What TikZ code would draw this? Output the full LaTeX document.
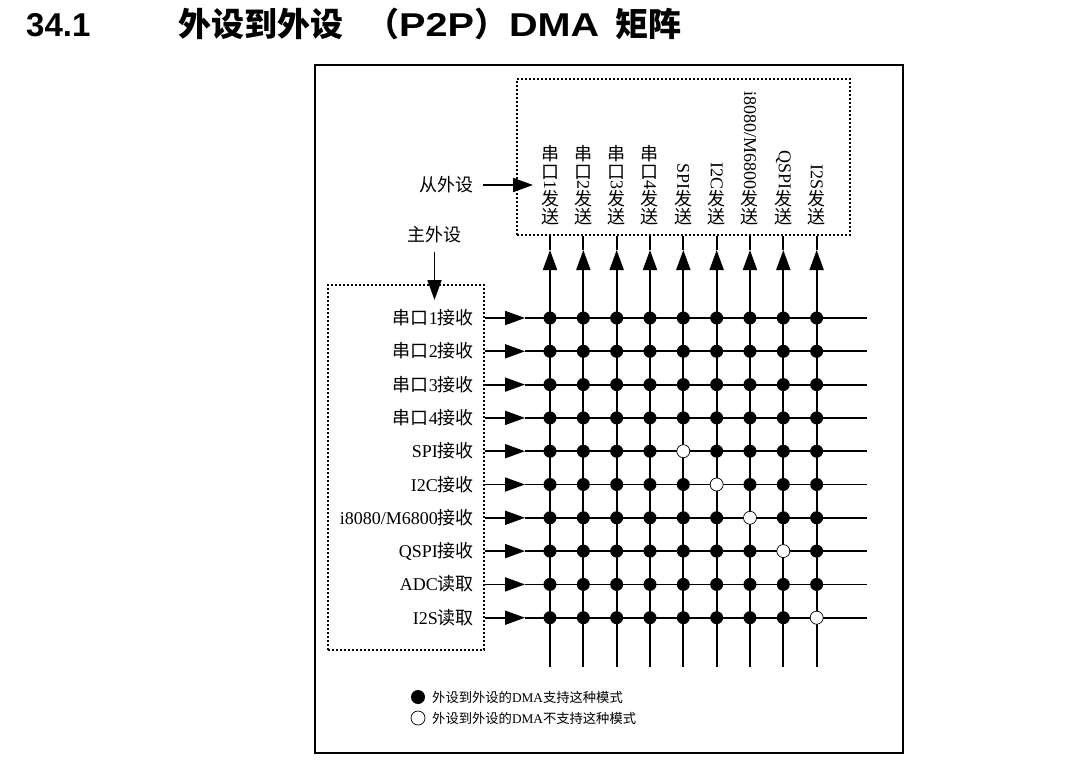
\documentclass[tikz,border=0pt]{standalone}
\usepackage{graphicx}
\usepackage{fontspec}
\setmainfont{Liberation Serif}
\setsansfont{Liberation Sans}
\newfontfamily\zhfont{Noto Sans CJK SC}
\usetikzlibrary{arrows.meta}
% Texto chino y etiquetas verticales
\newcommand\zh[1]{{\zhfont #1}}
\newcommand\vzh[1]{\hbox to 1em{\vrule height .88em depth .12em width 0pt\hss\zhfont #1\hss}}
\newcommand\vlat[1]{\hbox to 1em{\hss\rotatebox{-90}{#1}\hss}}
\newcommand\vlabel[1]{\vbox{\offinterlineskip #1\vzh{发}\vzh{送}}}
\newcommand\wide[1]{\scalebox{1.2}[1]{#1}}

\begin{document}
\begin{tikzpicture}[x=1pt, y=-1pt,
  wire/.style={line width=1.8pt},
  arrowhd/.style={-{Triangle[length=20pt,width=14pt]}},
  fulldot/.style={circle, fill=black, inner sep=0pt, minimum size=13pt},
  opendot/.style={circle, draw=black, fill=white, line width=0.7pt, inner sep=0pt, minimum size=13pt},
  dotbox/.style={draw, line width=1.4pt, dash pattern=on 2pt off 2pt, inner sep=0pt},
  lbl/.style={font=\fontsize{18}{21}\selectfont, inner sep=0pt},
  legend/.style={font=\fontsize{13.3}{16}\selectfont, inner sep=0pt},
  ttl/.style={anchor=base west, inner sep=0pt, font=\sffamily\bfseries\fontsize{33}{40}\selectfont}]
  \useasboundingbox (0,0) rectangle (1073,784);

  % Titulo
  \node[ttl] (secno) at (26,37) {34.1};
  \node[ttl] (sectitle) at (178,37)
    {\zh{外设到外设}\makebox[56pt][r]{\zh{（}}\wide{P2P}\makebox[35pt][l]{\zh{）}}\wide{DMA}\hspace{16pt}\zh{矩阵}};

  % Marco y cajas
  \draw[line width=1.2pt] (315,65) rectangle (903,753);
  \node[dotbox, minimum width=333pt, minimum height=156pt] (tbox) at (683.5,157) {};
  \node[dotbox, minimum width=156pt, minimum height=365pt] (mbox) at (406,467.5) {};

  % Perifericos
  \node[lbl, anchor=east] (slv) at (474,185) {\zh{从外设}};
  \node[lbl] (mst) at (434.5,235) {\zh{主外设}};
  \coordinate (slvtip) at (533,185);
  \coordinate (msttip) at (434.5,300);
  \draw[wire, arrowhd, shorten <=9pt] (slv.east) -- (slvtip);
  \draw[wire, arrowhd, shorten <=8pt] (mst.south) -- (msttip);

  % Filas (maestro)
  \foreach \t [count=\i] in {\zh{串口}1\zh{接收}, \zh{串口}2\zh{接收}, \zh{串口}3\zh{接收}, \zh{串口}4\zh{接收},
      SPI\zh{接收}, I2C\zh{接收}, i8080/M6800\zh{接收}, QSPI\zh{接收}, ADC\zh{读取}, I2S\zh{读取}} {
    \node[lbl, anchor=east, text height=15pt, text depth=2pt] (r\i) at (474,{318+(\i-1)*33.3}) {\t};
    \coordinate (hs\i) at (mbox.east |- r\i);
    \coordinate (ha\i) at (525,{318+(\i-1)*33.3});
    \coordinate (he\i) at (867,{318+(\i-1)*33.3});
  }

  % Columnas (esclavo)
  \foreach \t [count=\j] in {{\vzh{串}\vzh{口}\vlat{1}}, {\vzh{串}\vzh{口}\vlat{2}}, {\vzh{串}\vzh{口}\vlat{3}},
      {\vzh{串}\vzh{口}\vlat{4}}, {\vlat{SPI}}, {\vlat{I2C}}, {\vlat{i8080/M6800}}, {\vlat{QSPI}}, {\vlat{I2S}}} {
    \node[lbl, anchor=south] (c\j) at ({550+(\j-1)*33.33},226) {\vlabel{\t}};
    \coordinate (vt\j) at (tbox.south -| c\j);
    \coordinate (va\j) at ({550+(\j-1)*33.33},250);
    \coordinate (vb\j) at ({550+(\j-1)*33.33},667);
  }

  % Lineas
  \foreach \i in {1,...,10} {
    \draw[wire, arrowhd] (hs\i) -- (ha\i);
    \draw[wire] (ha\i) -- (he\i);
  }
  \foreach \j in {1,...,9} {
    \draw[wire, arrowhd] (vb\j) -- (va\j);
    \draw[wire] (va\j) -- (vt\j);
  }

  % Cruces
  \foreach \i in {1,...,10} {
    \foreach \j in {1,...,9} {
      \pgfmathtruncatemacro\nope{((\i==\j) && (\i>4) && (\i<9)) || ((\i==10) && (\j==9))}
      \ifnum\nope=1 \def\dotsty{opendot}\else\def\dotsty{fulldot}\fi
      \node[\dotsty] (d\i-\j) at (vb\j |- ha\i) {};
    }
  }

  % Leyenda
  \node[fulldot, minimum size=14pt] (kfull) at (418,697) {};
  \node[opendot, minimum size=14pt] (kopen) at (418,718) {};
  \node[legend, anchor=west] (tfull) at (432,697) {\zh{外设到外设的}DMA\zh{支持这种模式}};
  \node[legend, anchor=west] (topen) at (432,718) {\zh{外设到外设的}DMA\zh{不支持这种模式}};
\end{tikzpicture}
\end{document}
